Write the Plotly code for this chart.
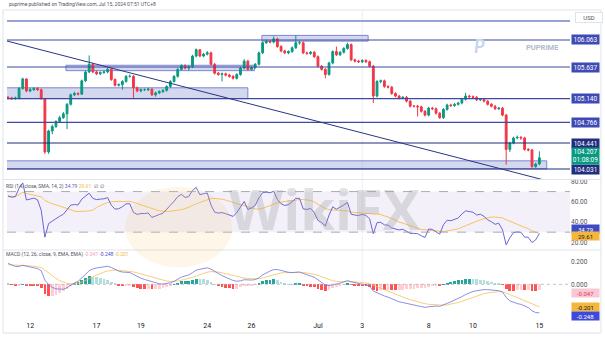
import plotly.graph_objects as go
from plotly.subplots import make_subplots

# ---------------- data (4H bars) ----------------
tick_idx = [6, 24, 36, 54, 66, 84, 96, 114, 126, 144]
tick_text = ["12", "17", "19", "24", "26", "Jul", "3", "8", "10", "15"]

opens = [105.16, 105.15, 105.14, 105.15, 105.30, 105.45, 105.26, 105.28, 105.30, 105.28,
         105.14, 104.30, 104.63, 104.70, 104.78, 104.84, 104.90, 105.05, 105.20, 105.22,
         105.21, 105.42, 105.56, 105.68, 105.56, 105.53, 105.55, 105.56, 105.60, 105.44,
         105.35, 105.36, 105.41, 105.49, 105.49, 105.31, 105.26, 105.28, 105.28, 105.29,
         105.20, 105.23, 105.25, 105.27, 105.33, 105.41, 105.49, 105.60, 105.66, 105.62,
         105.64, 105.81, 105.91, 105.81, 105.84, 105.86, 105.68, 105.54, 105.52, 105.53,
         105.51, 105.49, 105.46, 105.52, 105.62, 105.73, 105.60, 105.63, 105.68, 105.86,
         106.02, 106.04, 106.03, 106.08, 105.96, 105.89, 105.86, 105.88, 105.94, 106.02,
         106.02, 105.86, 105.85, 105.87, 105.80, 105.65, 105.60, 105.52, 105.70, 105.88,
         105.83, 105.87, 105.93, 105.99, 105.75, 105.73, 105.72, 105.74, 105.72, 105.65,
         105.18, 105.41, 105.42, 105.33, 105.32, 105.22, 105.18, 105.15, 105.16, 105.10,
         105.02, 105.02, 105.01, 104.94, 104.88, 104.99, 104.98, 104.91, 104.84, 104.97,
         105.04, 105.03, 105.05, 105.07, 105.13, 105.18, 105.17, 105.16, 105.12, 105.13,
         105.10, 105.05, 105.02, 104.98, 104.99, 104.88, 104.34, 104.44, 104.52, 104.53,
         104.52, 104.34, 104.33, 104.07, 104.11]
highs = [105.18, 105.17, 105.17, 105.32, 105.47, 105.46, 105.31, 105.32, 105.32, 105.30,
         105.15, 104.65, 104.73, 104.80, 104.87, 104.93, 105.07, 105.22, 105.25, 105.24,
         105.44, 105.58, 105.82, 105.70, 105.58, 105.57, 105.58, 105.63, 105.62, 105.46,
         105.38, 105.43, 105.51, 105.52, 105.51, 105.33, 105.30, 105.30, 105.31, 105.30,
         105.25, 105.27, 105.29, 105.35, 105.43, 105.51, 105.62, 105.68, 105.68, 105.66,
         105.83, 105.93, 105.92, 105.86, 105.89, 105.88, 105.70, 105.56, 105.55, 105.55,
         105.53, 105.51, 105.54, 105.64, 105.76, 105.75, 105.65, 105.70, 105.88, 106.04,
         106.07, 106.06, 106.12, 106.10, 105.98, 105.91, 105.90, 105.96, 106.14, 106.05,
         106.04, 105.88, 105.89, 105.89, 105.82, 105.67, 105.62, 105.72, 105.90, 105.96,
         105.89, 105.95, 106.02, 106.01, 105.77, 105.75, 105.76, 105.76, 105.74, 105.67,
         105.43, 105.44, 105.44, 105.35, 105.34, 105.24, 105.20, 105.18, 105.18, 105.12,
         105.04, 105.04, 105.03, 104.96, 105.01, 105.01, 105.00, 104.93, 104.99, 105.06,
         105.06, 105.07, 105.09, 105.15, 105.23, 105.20, 105.19, 105.18, 105.15, 105.15,
         105.12, 105.07, 105.04, 105.01, 105.01, 104.90, 104.46, 104.54, 104.56, 104.55,
         104.54, 104.36, 104.35, 104.13, 104.31]
lows = [105.13, 105.12, 105.12, 105.13, 105.28, 105.24, 105.24, 105.26, 105.26, 105.12,
        104.27, 104.27, 104.58, 104.68, 104.76, 104.82, 104.66, 105.03, 105.18, 105.19,
        105.20, 105.40, 105.54, 105.54, 105.51, 105.51, 105.53, 105.54, 105.42, 105.33,
        105.33, 105.28, 105.39, 105.47, 105.15, 105.24, 105.24, 105.26, 105.26, 105.18,
        105.17, 105.21, 105.23, 105.25, 105.31, 105.39, 105.47, 105.58, 105.60, 105.58,
        105.62, 105.79, 105.79, 105.79, 105.82, 105.66, 105.52, 105.50, 105.41, 105.49,
        105.47, 105.44, 105.44, 105.50, 105.60, 105.58, 105.58, 105.61, 105.66, 105.84,
        106.00, 106.01, 106.01, 105.94, 105.87, 105.84, 105.84, 105.86, 105.92, 105.99,
        105.84, 105.83, 105.83, 105.78, 105.63, 105.58, 105.46, 105.50, 105.68, 105.81,
        105.81, 105.85, 105.91, 105.73, 105.71, 105.70, 105.70, 105.70, 105.63, 105.07,
        105.16, 105.38, 105.31, 105.30, 105.20, 105.16, 105.13, 105.13, 105.08, 105.00,
        105.00, 104.86, 104.92, 104.86, 104.86, 104.96, 104.89, 104.82, 104.82, 104.95,
        105.01, 105.01, 105.03, 105.05, 105.11, 105.15, 105.14, 105.10, 105.10, 105.08,
        105.03, 105.00, 104.96, 104.96, 104.86, 104.10, 104.30, 104.42, 104.50, 104.49,
        104.32, 104.31, 104.05, 104.05, 104.09]
closes = [105.15, 105.14, 105.15, 105.30, 105.45, 105.26, 105.28, 105.30, 105.28, 105.14,
          104.30, 104.63, 104.70, 104.78, 104.84, 104.90, 105.05, 105.20, 105.22, 105.21,
          105.42, 105.56, 105.68, 105.56, 105.53, 105.55, 105.56, 105.60, 105.44, 105.35,
          105.36, 105.41, 105.49, 105.49, 105.31, 105.26, 105.28, 105.28, 105.29, 105.20,
          105.23, 105.25, 105.27, 105.33, 105.41, 105.49, 105.60, 105.66, 105.62, 105.64,
          105.81, 105.91, 105.81, 105.84, 105.86, 105.68, 105.54, 105.52, 105.53, 105.51,
          105.49, 105.46, 105.52, 105.62, 105.73, 105.60, 105.63, 105.68, 105.86, 106.02,
          106.04, 106.03, 106.08, 105.96, 105.89, 105.86, 105.88, 105.94, 106.02, 106.02,
          105.86, 105.85, 105.87, 105.80, 105.65, 105.60, 105.52, 105.70, 105.88, 105.83,
          105.87, 105.93, 105.99, 105.75, 105.73, 105.72, 105.74, 105.72, 105.65, 105.18,
          105.41, 105.42, 105.33, 105.32, 105.22, 105.18, 105.15, 105.16, 105.10, 105.02,
          105.02, 105.01, 104.94, 104.88, 104.99, 104.98, 104.91, 104.84, 104.97, 105.04,
          105.03, 105.05, 105.07, 105.13, 105.18, 105.17, 105.16, 105.12, 105.13, 105.10,
          105.05, 105.02, 104.98, 104.99, 104.88, 104.34, 104.44, 104.52, 104.53, 104.52,
          104.34, 104.33, 104.07, 104.11, 104.207]

levels = [106.063, 105.637, 105.140, 104.766, 104.441, 104.031]
level_labels = ["106.063", "105.637", "105.140", "104.766", "104.441", "104.031"]
level_dark = [False, False, False, False, True, True]
top_level = 106.36

zone_x0 = [68.8, 15.7, -0.5, -0.5]
zone_x1 = [97.6, 66.8, 65.0, 146.0]
zone_y0 = [106.045, 105.58, 105.140, 104.035]
zone_y1 = [106.135, 105.665, 105.310, 104.160]

trend_x = [-0.3, 146.3]
trend_y = [106.047, 103.843]

session_line_idx = [96]

last_price = 104.207
last_countdown = "01:08:09"
rsi_last, rsi_ma_last = 34.79, 29.61
macd_hist_last, macd_last, signal_last = -0.047, -0.248, -0.201

# seeds for indicator warm-up (estimated from the picture's left edge)
rsi_seed_gain, rsi_seed_loss = 0.030, 0.015
ema12_seed, ema26_seed, signal_seed = 105.15, 104.95, 0.17

# ---------------- indicators ----------------
n = len(closes)
idx = list(range(n))

ag, al = rsi_seed_gain, rsi_seed_loss
rsi = []
prev = opens[0]
for c in closes:
    ch = c - prev
    prev = c
    ag = (ag * 13 + max(ch, 0)) / 14
    al = (al * 13 + max(-ch, 0)) / 14
    rsi.append(100 - 100 / (1 + ag / al) if al > 0 else 100)
rsi_ma = []
for i in range(n):
    w = rsi[max(0, i - 13):i + 1]
    rsi_ma.append(sum(w) / len(w))

e12, e26, sg = ema12_seed, ema26_seed, signal_seed
macd, sig, hist = [], [], []
for c in closes:
    e12 += 2 / 13 * (c - e12)
    e26 += 2 / 27 * (c - e26)
    m = e12 - e26
    sg += 2 / 10 * (m - sg)
    macd.append(m)
    sig.append(sg)
    hist.append(m - sg)
hist_cols = []
for i, h in enumerate(hist):
    p = hist[i - 1] if i > 0 else h
    if h >= 0:
        hist_cols.append('#26a69a' if h > p else '#b2dfdb')
    else:
        hist_cols.append('#ffcdd2' if h > p else '#ff5252')

# ---------------- figure ----------------
fig = make_subplots(rows=3, cols=1, shared_xaxes=True, vertical_spacing=0)

fig.add_trace(go.Candlestick(
    x=idx, open=opens, high=highs, low=lows, close=closes,
    increasing=dict(line=dict(color='#089981', width=1), fillcolor='#089981'),
    decreasing=dict(line=dict(color='#f23645', width=1), fillcolor='#f23645'),
    whiskerwidth=0, hoverinfo='skip'), row=1, col=1)

fig.add_trace(go.Scatter(x=idx, y=rsi_ma, mode='lines',
                         line=dict(color='#f5b73b', width=0.8), hoverinfo='skip'), row=2, col=1)
fig.add_trace(go.Scatter(x=idx, y=rsi, mode='lines',
                         line=dict(color='#5b57d1', width=0.9), hoverinfo='skip'), row=2, col=1)

fig.add_trace(go.Bar(x=idx, y=hist, marker=dict(color=hist_cols, line=dict(width=0)),
                     width=0.75, hoverinfo='skip'), row=3, col=1)
fig.add_trace(go.Scatter(x=idx, y=sig, mode='lines',
                         line=dict(color='#f5c15a', width=0.8), hoverinfo='skip'), row=3, col=1)
fig.add_trace(go.Scatter(x=idx, y=macd, mode='lines',
                         line=dict(color='#6f74e0', width=0.8), hoverinfo='skip'), row=3, col=1)

xr = [-0.27, 152.3]
for ax in ['xaxis', 'xaxis2', 'xaxis3']:
    fig.layout[ax].update(range=xr, showgrid=False, zeroline=False, showline=False,
                          rangeslider=dict(visible=False), tickvals=tick_idx, ticktext=tick_text,
                          ticks='', fixedrange=True)
fig.layout.xaxis3.update(showticklabels=True, tickfont=dict(size=7, color='#131722'))

fig.update_layout(
    width=605, height=340, margin=dict(l=7, r=35, t=10, b=20),
    paper_bgcolor='white', plot_bgcolor='white', showlegend=False, bargap=0,
    font=dict(family='Roboto, sans-serif', size=7, color='#131722'),
    yaxis=dict(domain=[0.4548, 1.0], range=[103.874, 106.535], showticklabels=False,
               showgrid=False, zeroline=False, side='right'),
    yaxis2=dict(domain=[0.229, 0.4516], range=[13.4, 81.4], side='right',
                tickvals=[20, 40, 60, 80], ticktext=['20.00', '40.00', '60.00', '80.00'],
                tickfont=dict(size=6.5, color='#50535e'), showgrid=False, zeroline=False),
    yaxis3=dict(domain=[0.0, 0.2226], range=[-0.316, 0.295], side='right',
                tickvals=[0.0, 0.2], ticktext=['0.000', '0.200'],
                tickfont=dict(size=6.5, color='#50535e'), showgrid=False, zeroline=False),
)

shapes = []
# outer frame and separators
shapes.append(dict(type='rect', xref='paper', yref='paper', x0=-0.0071, x1=1.055, y0=-0.042, y1=1.0,
                   line=dict(color='#e0e3eb', width=1), layer='below'))
for yp in [0.4532, 0.2258]:
    shapes.append(dict(type='line', xref='paper', yref='paper', x0=-0.0071, x1=1.055, y0=yp, y1=yp,
                       line=dict(color='#e0e3eb', width=1)))
for sx in session_line_idx:
    shapes.append(dict(type='line', xref='x', yref='paper', x0=sx, x1=sx, y0=0, y1=1,
                       line=dict(color='#eceef3', width=1), layer='below'))
# zones
for x0, x1, y0, y1 in zip(zone_x0, zone_x1, zone_y0, zone_y1):
    shapes.append(dict(type='rect', xref='x', yref='y', x0=x0, x1=x1, y0=y0, y1=y1,
                       fillcolor='rgba(121,134,203,0.32)', line=dict(color='#7c86d3', width=1),
                       layer='below'))
# levels
shapes.append(dict(type='line', xref='paper', yref='y', x0=0, x1=1, y0=top_level, y1=top_level,
                   line=dict(color='#9aa3d8', width=2)))
for lv, dk in zip(levels, level_dark):
    shapes.append(dict(type='line', xref='paper', yref='y', x0=0, x1=1, y0=lv, y1=lv,
                       line=dict(color='#1f2a78' if dk else '#3d4a9f', width=1.1)))
# trend line
shapes.append(dict(type='line', xref='x', yref='y', x0=trend_x[0], x1=trend_x[1],
                   y0=trend_y[0], y1=trend_y[1], line=dict(color='#2a3486', width=1)))
# RSI band and dashed lines
shapes.append(dict(type='rect', xref='paper', yref='y2', x0=0, x1=1, y0=30, y1=70,
                   fillcolor='rgba(126,87,194,0.09)', line=dict(width=0), layer='below'))
for lv in [70, 30]:
    shapes.append(dict(type='line', xref='paper', yref='y2', x0=0, x1=1, y0=lv, y1=lv,
                       line=dict(color='#9598a1', width=0.8, dash='dash')))
shapes.append(dict(type='line', xref='paper', yref='y3', x0=0, x1=1, y0=0, y1=0,
                   line=dict(color='#b2b5be', width=0.8, dash='dot')))
# watermark logo blob
shapes.append(dict(type='circle', xref='paper', yref='paper', x0=0.21, x1=0.40, y0=0.17, y1=0.43,
                   fillcolor='rgba(240,200,120,0.16)', line=dict(width=0), layer='above'))
fig.update_layout(shapes=shapes)

ann = []
def plabel(text, y, yref, bg, fc='white', yshift=0, h=8, fs=6.5):
    ann.append(dict(text=text, x=1.002, xref='paper', y=y, yref=yref, xanchor='left', yanchor='middle',
                    showarrow=False, bgcolor=bg, font=dict(size=fs, color=fc, family='Roboto'),
                    width=26, height=h, borderpad=0.5, yshift=yshift, align='center'))

for lv, txt, dk in zip(levels, level_labels, level_dark):
    plabel(txt, lv, 'y', '#232d7e' if dk else '#3f4bb5')
plabel(f"{last_price:.3f}<br>{last_countdown}", last_price, 'y', '#089981', yshift=2, h=15)
plabel(f"{rsi_last:.2f}", rsi_last, 'y2', '#3f4bc4', yshift=-2, h=7, fs=6)
plabel(f"{rsi_ma_last:.2f}", rsi_ma_last, 'y2', '#f5b73b', fc='#131722', yshift=-3.5, h=7, fs=6)
plabel(f"{macd_hist_last:.3f}", macd_hist_last, 'y3', '#f8c9d4', fc='#e23a4e', yshift=-3, h=7, fs=6)
plabel(f"{signal_last:.3f}", signal_last, 'y3', '#f5b73b', fc='#131722', h=7, fs=6)
plabel(f"{macd_last:.3f}", macd_last, 'y3', '#3f4bd8', yshift=-4, h=7, fs=6)

ann.append(dict(text='USD', x=1.009, xref='paper', y=0.976, yref='paper', xanchor='left',
                yanchor='middle', showarrow=False, font=dict(size=6, color='#50535e'),
                bordercolor='#e0e3eb', borderwidth=1, bgcolor='white', width=24))
ann.append(dict(text='puprime published on TradingView.com, Jul 15, 2024 07:51 UTC+8',
                x=0.0, xref='paper', y=1.019, yref='paper', xanchor='left', yanchor='middle',
                showarrow=False, font=dict(size=5, color='#50535e')))
ann.append(dict(text=(f'RSI (14, close, SMA, 14, 2) <span style="color:#5b57d1">{rsi_last:.2f}</span> '
                      f'<span style="color:#f5b73b">{rsi_ma_last:.2f}</span>  \u2205  \u2205'),
                x=-0.006, xref='paper', y=0.432, yref='paper', xanchor='left', yanchor='middle',
                showarrow=False, font=dict(size=5, color='#50535e')))
ann.append(dict(text=(f'MACD (12, 26, close, 9, EMA, EMA) <span style="color:#f7a1b0">{macd_hist_last:.3f}</span> '
                      f'<span style="color:#3f4bd8">{macd_last:.3f}</span> '
                      f'<span style="color:#f5b73b">{signal_last:.3f}</span>'),
                x=-0.006, xref='paper', y=0.2097, yref='paper', xanchor='left', yanchor='middle',
                showarrow=False, font=dict(size=5, color='#50535e')))
# watermarks
ann.append(dict(text='<b>WikiFX</b>', x=0.565, xref='paper', y=0.36, yref='paper', xanchor='center',
                yanchor='middle', showarrow=False,
                font=dict(size=56, color='rgba(160,160,160,0.3)', family='Open Sans')))
ann.append(dict(text='<b><i>P</i></b>', x=0.84, xref='paper', y=0.885, yref='paper', xanchor='center',
                yanchor='middle', showarrow=False, font=dict(size=18, color='#c9d5ee', family='Lato')))
ann.append(dict(text='<b>PUPRIME</b>', x=0.952, xref='paper', y=0.878, yref='paper', xanchor='center',
                yanchor='middle', showarrow=False, font=dict(size=7.5, color='#b3bac8', family='Roboto')))
fig.update_layout(annotations=ann)

fig.write_html("out.html")
